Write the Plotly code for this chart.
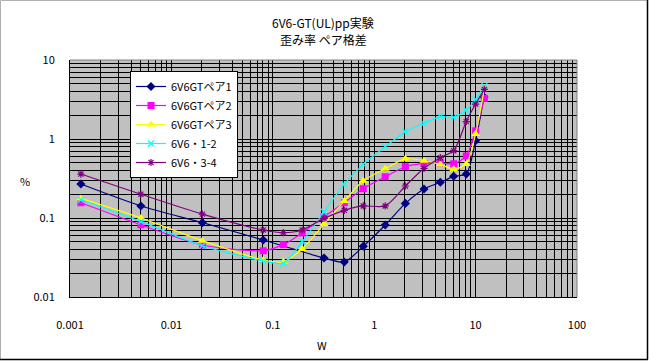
import plotly.graph_objects as go

# ---- data ----
x_p1 = [0.00128, 0.005, 0.0202, 0.0805, 0.32, 0.507, 0.78, 1.285, 2.03, 3.1, 4.49, 6.08, 8.09, 10.0, 12.1]
y_p1 = [0.269, 0.142, 0.0873, 0.0527, 0.0312, 0.0277, 0.0438, 0.0815, 0.153, 0.233, 0.283, 0.337, 0.36, 0.95, 3.4]

x_all = [0.00128, 0.005, 0.0202, 0.0805, 0.127, 0.195, 0.32, 0.507, 0.78, 1.285, 2.03, 3.1, 4.49, 6.08, 8.09, 10.0, 12.2]
y_p2 = [0.156, 0.082, 0.0455, 0.0385, 0.046, 0.0646, 0.104, 0.156, 0.235, 0.333, 0.446, 0.49, 0.50, 0.486, 0.61, 1.27, 3.27]
y_p3 = [0.177, 0.10, 0.0517, 0.0294, 0.028, 0.0406, 0.084, 0.164, 0.296, 0.42, 0.564, 0.531, 0.478, 0.413, 0.483, 1.156, 4.38]
y_12 = [0.17, 0.09, 0.0446, 0.0286, 0.0267, 0.05, 0.12, 0.269, 0.478, 0.80, 1.24, 1.58, 1.92, 1.88, 2.33, 3.18, 4.69]
y_34 = [0.36, 0.20, 0.112, 0.0705, 0.0652, 0.0705, 0.099, 0.125, 0.142, 0.142, 0.254, 0.426, 0.58, 0.711, 1.66, 2.77, 4.25]

names = ["6V6GTペア1", "6V6GTペア2", "6V6GTペア3", "6V6・1-2", "6V6・3-4"]
x_ticks = [0.001, 0.01, 0.1, 1, 10, 100]
x_ticktext = ["0.001", "0.01", "0.1", "1", "10", "100"]
y_ticks = [0.01, 0.1, 1, 10]
y_ticktext = ["0.01", "0.1", "1", "10"]
title1 = "6V6-GT(UL)pp実験"
title2 = "歪み率 ペア格差"

FONT = "Noto Sans CJK JP, Liberation Sans, sans-serif"

series = [
    (x_p1, y_p1, "#000080", dict(symbol="diamond", size=7)),
    (x_all, y_p2, "#FF00FF", dict(symbol="square", size=7)),
    (x_all, y_p3, "#FFFF00", dict(symbol="triangle-up", size=8)),
    (x_all, y_12, "#00FFFF", dict(symbol="x-thin", size=6, line=dict(width=1.2, color="#00FFFF"))),
    (x_all, y_34, "#800080", dict(symbol="asterisk", size=6, line=dict(width=1.2, color="#800080"))),
]

fig = go.Figure()
for (xs, ys, col, mk), nm in zip(series, names):
    mk = dict(mk)
    mk["color"] = col
    fig.add_trace(go.Scatter(
        x=xs, y=ys, name=nm, mode="lines+markers",
        line=dict(color=col, width=1.2, shape="spline", smoothing=0.7),
        marker=mk,
    ))

W, H = 649, 361
L, R, T, B = 70, 577, 60, 297
pw, ph = R - L, B - T

def px(xp):
    return (xp - L) / pw

def py(yp):
    return (B - yp) / ph

def ann(text, x, y, size):
    return dict(text=text, x=px(x), y=py(y), xref="paper", yref="paper",
                xanchor="center", yanchor="middle", showarrow=False,
                font=dict(family=FONT, size=size))

fig.update_layout(
    width=W, height=H,
    margin=dict(l=L, r=W - R, t=T, b=H - B, pad=0),
    paper_bgcolor="white",
    plot_bgcolor="#C0C0C0",
    font=dict(family=FONT, size=11, color="black"),
    showlegend=True,
    legend=dict(
        x=px(130), y=py(71), xanchor="left", yanchor="top",
        bgcolor="white", bordercolor="black", borderwidth=1,
        font=dict(family=FONT, size=11, color="black"),
        tracegroupgap=0, itemwidth=30,
    ),
    xaxis=dict(
        type="log", range=[-3, 2],
        tickvals=x_ticks, ticktext=x_ticktext,
        showgrid=True, gridcolor="black", gridwidth=1,
        minor=dict(dtick="D1", showgrid=True, gridcolor="black", gridwidth=1, ticks=""),
        showline=True, linecolor="black", linewidth=1,
        ticks="", ticklabelstandoff=18,
        zeroline=False,
    ),
    yaxis=dict(
        type="log", range=[-2, 1],
        tickvals=y_ticks, ticktext=y_ticktext,
        showgrid=True, gridcolor="black", gridwidth=1,
        minor=dict(dtick="D1", showgrid=True, gridcolor="black", gridwidth=1, ticks=""),
        showline=True, linecolor="black", linewidth=1,
        ticks="", ticklabelstandoff=12,
        zeroline=False,
    ),
    annotations=[
        ann(title1, 323, 23, 12),
        ann(title2, 323, 40, 12),
        ann("%", 25, 181, 11),
        ann("W", 322, 345, 11),
    ],
    shapes=[
        # plot-area border top/right (gray)
        dict(type="line", xref="paper", yref="paper", x0=0, x1=1, y0=1, y1=1,
             line=dict(color="#808080", width=1)),
        dict(type="line", xref="paper", yref="paper", x0=1, x1=1, y0=0, y1=1,
             line=dict(color="#808080", width=1)),
        # chart-area frame
        dict(type="line", xref="paper", yref="paper", x0=px(0.5), x1=px(648), y0=py(0.5), y1=py(0.5),
             line=dict(color="#B0B0B0", width=1)),
        dict(type="line", xref="paper", yref="paper", x0=px(0.5), x1=px(0.5), y0=py(0.5), y1=py(359),
             line=dict(color="#B0B0B0", width=1)),
        dict(type="line", xref="paper", yref="paper", x0=px(647.5), x1=px(647.5), y0=py(0), y1=py(359.5),
             line=dict(color="black", width=1.5)),
        dict(type="line", xref="paper", yref="paper", x0=px(0), x1=px(648), y0=py(359.5), y1=py(359.5),
             line=dict(color="black", width=1.5)),
    ],
)

fig.write_html("out.html",
               config=dict(displayModeBar=False),
               post_script="document.body.style.margin='0px';document.body.style.overflow='hidden';")
